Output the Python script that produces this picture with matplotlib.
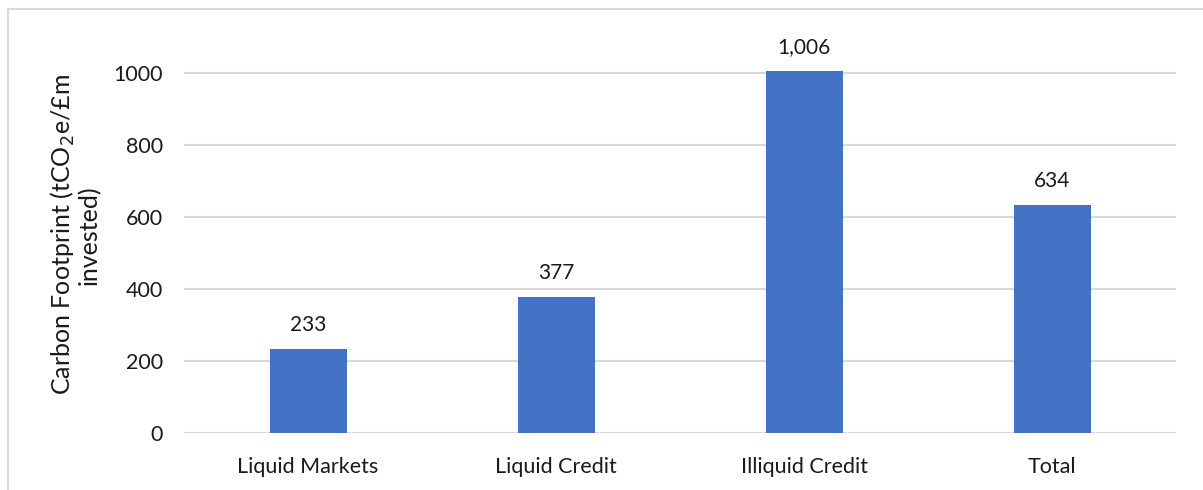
import matplotlib.pyplot as plt
from matplotlib.patches import Rectangle

categories = ["Liquid Markets", "Liquid Credit", "Illiquid Credit", "Total"]
footprint = [233, 377, 1006, 634]
yticks = [0, 200, 400, 600, 800, 1000]

plt.rcParams["font.family"] = ["Lato", "DejaVu Sans"]

fig = plt.figure(figsize=(12.03, 4.9), dpi=100)
ax = fig.add_axes([0.153, 0.1163, 0.8247, 0.8082])

# chart frame
fig.patches.append(Rectangle((8 / 1203, -0.1), 1.1, (490 - 9) / 490 + 0.1,
                             transform=fig.transFigure, fill=False,
                             edgecolor="#d9d9d9", linewidth=1.5))

x = range(len(categories))
bars = ax.bar(x, footprint, width=0.31, color="#4472C4", zorder=3)
for b, v in zip(bars, footprint):
    ax.annotate(f"{v:,}", (b.get_x() + b.get_width() / 2, v),
                xytext=(0, 10), textcoords="offset points",
                ha="center", va="bottom", fontsize=15, color="#1a1a1a")

ax.set_xlim(-0.5, len(categories) - 0.5)
ax.set_ylim(0, 1100)
ax.set_yticks(yticks)
ax.set_xticks(list(x))
ax.set_xticklabels(categories)
ax.tick_params(length=0, labelsize=15.5, colors="#1a1a1a")
ax.tick_params(axis="y", pad=15)
ax.tick_params(axis="x", pad=17)
ax.grid(axis="y", color="#d9d9d9", linewidth=1.5, zorder=0)
for s in ax.spines.values():
    s.set_visible(False)

ax.set_ylabel("Carbon Footprint (tCO$_2$e/£m\ninvested)", fontsize=18,
              color="#1a1a1a", labelpad=9, linespacing=1.05)

fig.savefig("out.png", dpi=100)
